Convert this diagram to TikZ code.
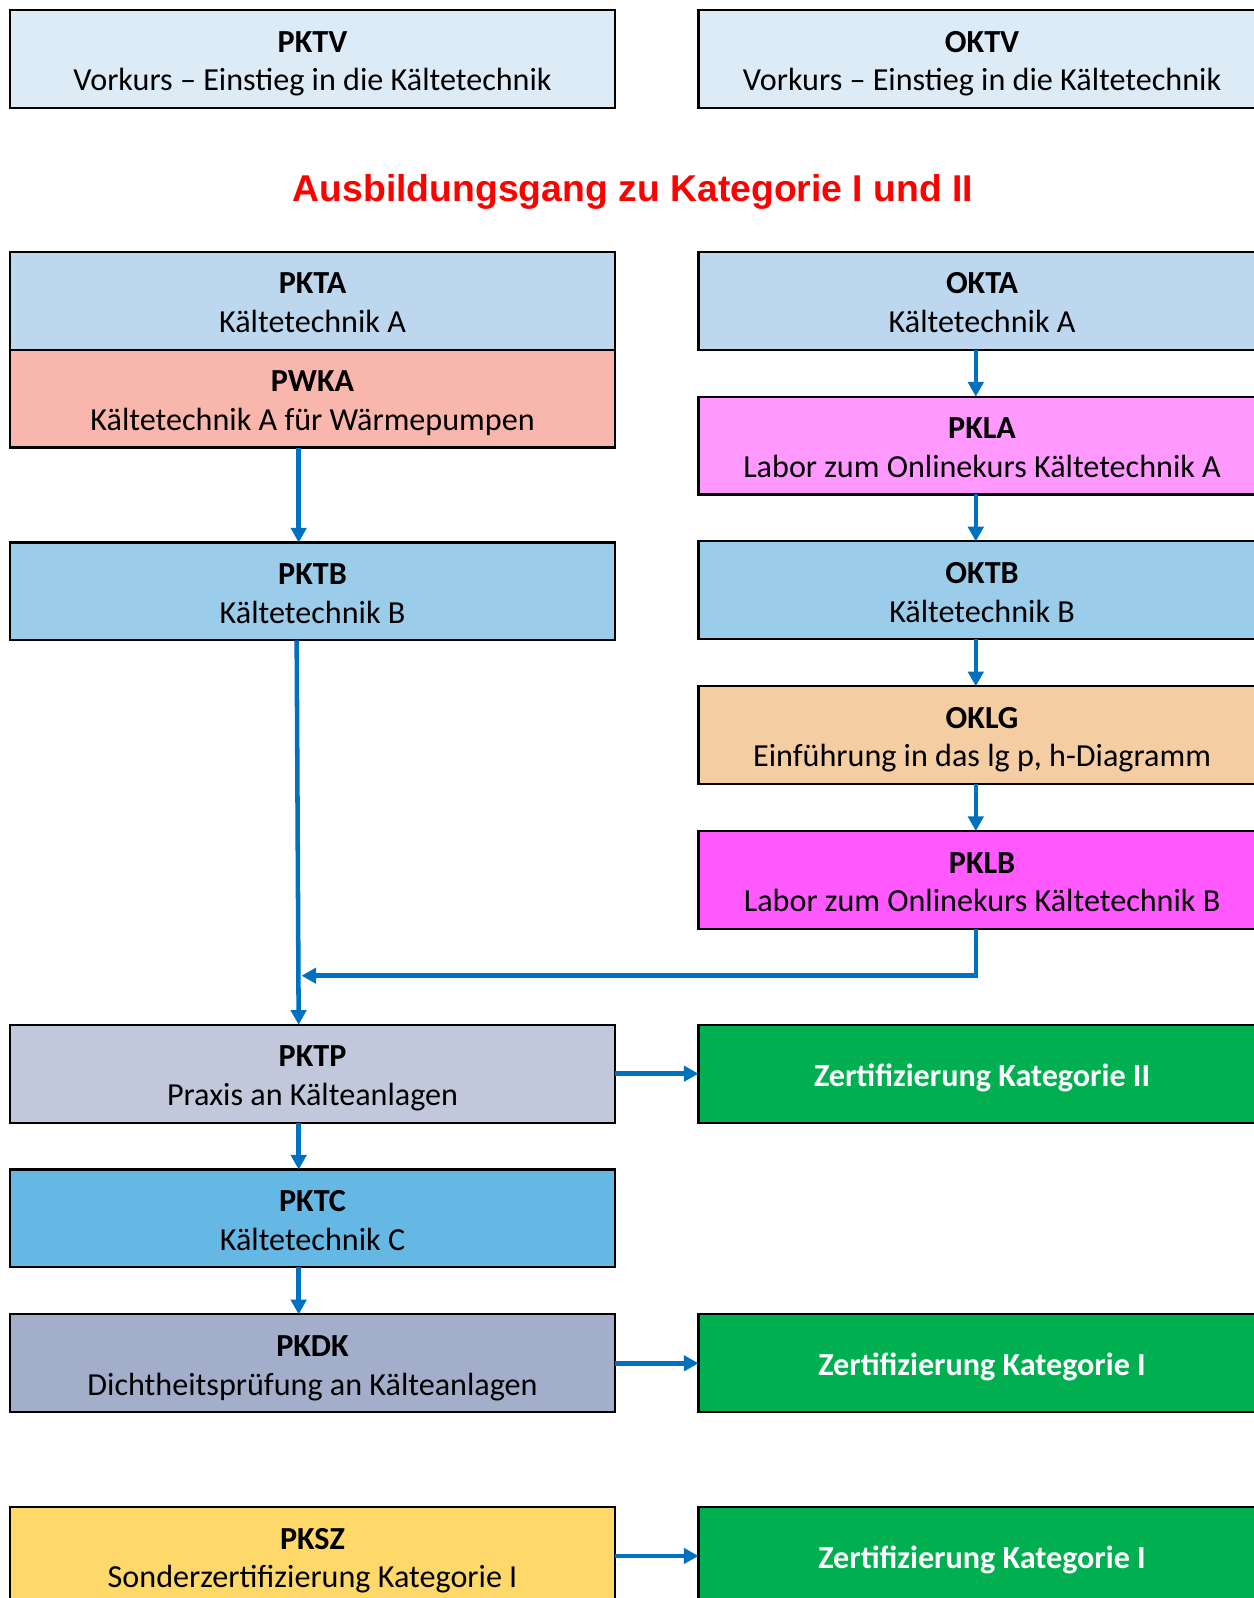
\documentclass[tikz,border=0pt]{standalone}
\usepackage{fontspec}
\setmainfont{Carlito}
\newfontfamily\titelfont{Liberation Sans}
\usetikzlibrary{positioning,arrows.meta,calc}
\definecolor{vorkursblau}{RGB}{221,235,247}
\definecolor{ablau}{RGB}{189,215,238}
\definecolor{wkarot}{RGB}{248,182,172}
\definecolor{laborrosa}{RGB}{255,153,255}
\definecolor{bblau}{RGB}{155,204,234}
\definecolor{lgbeige}{RGB}{244,205,163}
\definecolor{labormagenta}{RGB}{255,89,255}
\definecolor{praxisgrau}{RGB}{194,200,220}
\definecolor{cblau}{RGB}{101,184,228}
\definecolor{dkgrau}{RGB}{162,174,202}
\definecolor{szgelb}{RGB}{254,217,106}
\definecolor{zertgruen}{RGB}{0,176,80}
\definecolor{pfeilblau}{RGB}{0,112,192}
\definecolor{titelrot}{RGB}{255,0,0}
\tikzstyle{kursbox} = [rectangle, draw=black, line width=1.6pt, outer sep=0pt, inner sep=0pt, minimum width=453.5pt, minimum height=73.4pt, align=center, text height=53.6pt, text depth=6pt, font=\fontsize{24.1pt}{29pt}\selectfont]
\tikzstyle{onlinebox} = [kursbox, minimum width=425.4pt]
\tikzstyle{zertbox} = [onlinebox, fill=zertgruen, text=white, text height=18.5pt, text depth=0pt, font=\fontsize{24.1pt}{29pt}\selectfont\bfseries]
\tikzstyle{pfeil} = [line width=3.4pt, draw=pfeilblau, -{Triangle[width=11.5pt,length=11pt]}]

\begin{document}
\begin{tikzpicture}[x=0.75pt, y=-0.75pt, node distance=35.2pt and 62.7pt]
\useasboundingbox (0,0) rectangle (1253,1598);

% Vorkurse
\node[kursbox, fill=vorkursblau, anchor=north west] (pktv) at (10.2,10.2) {\textbf{PKTV}\\Vorkurs – Einstieg in die Kältetechnik};
\node[onlinebox, fill=vorkursblau, right=of pktv] (oktv) {\textbf{OKTV}\\Vorkurs – Einstieg in die Kältetechnik};

% Titel
\node[font=\titelfont\bfseries\fontsize{28pt}{34pt}\selectfont, text=titelrot] (titel) at (633,191.5) {Ausbildungsgang zu Kategorie I und II};

% Praesenzkurse (links)
\node[kursbox, fill=ablau, below=107.8pt of pktv] (pkta) {\textbf{PKTA}\\Kältetechnik A};
\node[kursbox, fill=wkarot, below=0pt of pkta] (pwka) {\textbf{PWKA}\\Kältetechnik A für Wärmepumpen};
\node[kursbox, fill=bblau, below=71.2pt of pwka] (pktb) {\textbf{PKTB}\\Kältetechnik B};

% Onlinekurse (rechts)
\node[onlinebox, fill=ablau, right=of pkta] (okta) {\textbf{OKTA}\\Kältetechnik A};
\node[onlinebox, fill=laborrosa, below=of okta] (pkla) {\textbf{PKLA}\\Labor zum Onlinekurs Kältetechnik A};
\node[onlinebox, fill=bblau, below=of pkla] (oktb) {\textbf{OKTB}\\Kältetechnik B};
\node[onlinebox, fill=lgbeige, below=of oktb] (oklg) {\textbf{OKLG}\\Einführung in das lg p, h-Diagramm};
\node[onlinebox, fill=labormagenta, below=of oklg] (pklb) {\textbf{PKLB}\\Labor zum Onlinekurs Kältetechnik B};

% Praxis und Zertifizierung
\node[kursbox, fill=praxisgrau, below=288.3pt of pktb] (pktp) {\textbf{PKTP}\\Praxis an Kälteanlagen};
\node[zertbox, right=of pktp] (zert2) {Zertifizierung Kategorie II};
\node[kursbox, fill=cblau, below=of pktp] (pktc) {\textbf{PKTC}\\Kältetechnik C};
\node[kursbox, fill=dkgrau, below=of pktc] (pkdk) {\textbf{PKDK}\\Dichtheitsprüfung an Kälteanlagen};
\node[zertbox, right=of pkdk] (zert1) {Zertifizierung Kategorie I};
\node[kursbox, fill=szgelb, below=71.1pt of pkdk] (pksz) {\textbf{PKSZ}\\Sonderzertifizierung Kategorie I};
\node[zertbox, right=of pksz] (zert1s) {Zertifizierung Kategorie I};

% Pfeile links
\draw[pfeil] ([xshift=-10.4pt]pwka.south) -- ([xshift=-10.4pt]pktb.north);
\draw[pfeil] ([xshift=-11.9pt]pktb.south) -- ([xshift=-10.4pt]pktp.north);
\draw[pfeil] ([xshift=-10.4pt]pktp.south) -- ([xshift=-10.4pt]pktc.north);
\draw[pfeil] ([xshift=-10.4pt]pktc.south) -- ([xshift=-10.4pt]pkdk.north);

% Pfeile rechts
\draw[pfeil] ([xshift=-4.7pt]okta.south) -- ([xshift=-4.7pt]pkla.north);
\draw[pfeil] ([xshift=-4.7pt]pkla.south) -- ([xshift=-4.7pt]oktb.north);
\draw[pfeil] ([xshift=-4.7pt]oktb.south) -- ([xshift=-4.7pt]oklg.north);
\draw[pfeil] ([xshift=-4.7pt]oklg.south) -- ([xshift=-4.7pt]pklb.north);

% Zusammenfuehrung
\coordinate (einmuendung) at (301.5,975.7);
\draw[pfeil] ([xshift=-4.7pt]pklb.south) |- (einmuendung);

% Pfeile zur Zertifizierung
\draw[pfeil] (pktp.east) -- (zert2.west);
\draw[pfeil] (pkdk.east) -- (zert1.west);
\draw[pfeil] (pksz.east) -- (zert1s.west);

\end{tikzpicture}
\end{document}
